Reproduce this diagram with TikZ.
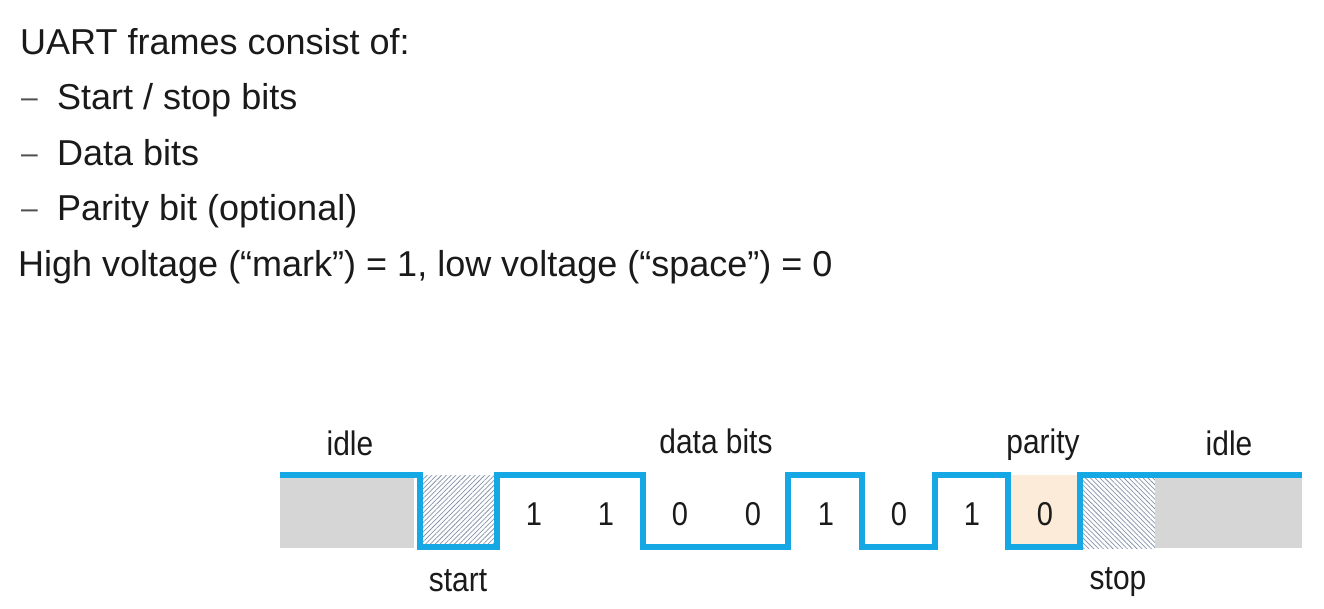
\documentclass[tikz,border=0pt]{standalone}
\usepackage{fontspec}
\setmainfont{Liberation Sans}
\newfontfamily\labelfont[FakeStretch=0.88]{Liberation Sans}
\usetikzlibrary{patterns.meta}
\definecolor{ink}{RGB}{26,26,26}
\definecolor{dashgrey}{RGB}{80,80,80}
\definecolor{sigblue}{RGB}{22,168,228}
\definecolor{idlegrey}{RGB}{214,214,214}
\definecolor{paritybg}{RGB}{252,235,216}
\definecolor{hatchcol}{RGB}{135,150,172}
\begin{document}
\begin{tikzpicture}[x=1pt,y=-1pt,
  txt/.style={anchor=base west, inner sep=0pt, text=ink, font=\fontsize{36}{40}\selectfont},
  dashmark/.style={anchor=base west, inner sep=0pt, text=dashgrey, font=\fontsize{30}{34}\selectfont},
  lbl/.style={anchor=base, inner sep=0pt, text=ink, font=\labelfont\fontsize{34}{36}\selectfont},
  bitval/.style={anchor=base, inner sep=0pt, text=ink, font=\labelfont\fontsize{33}{35}\selectfont},
  wave/.style={draw=sigblue, line width=6.5pt, line join=miter},
  hatchne/.style={pattern={Lines[angle=45,distance=3.4pt,line width=0.75pt]}, pattern color=hatchcol},
  hatchnw/.style={pattern={Lines[angle=-45,distance=3.4pt,line width=0.75pt]}, pattern color=hatchcol}
]
\useasboundingbox[fill=white] (0,0) rectangle (1324,609);

% bullet text
\node[txt] (t1) at (20,55) {UART frames consist of:};
\node[dashmark] (d2) at (21,108) {--};
\node[txt] (t2) at (57,110) {Start / stop bits};
\node[dashmark] (d3) at (21,164) {--};
\node[txt] (t3) at (57,166) {Data bits};
\node[dashmark] (d4) at (21,219) {--};
\node[txt] (t4) at (57,221) {Parity bit (optional)};
\node[txt] (t5) at (18,277) {High voltage (“mark”) = 1, low voltage (“space”) = 0};

% background regions
\fill[idlegrey] (280,478) rectangle (414,548);
\fill[white] (420,475) rectangle (497,547);
\fill[hatchne] (420,475) rectangle (497,547);
\fill[paritybg] (1008,475) rectangle (1080,547);
\fill[white] (1080,478) rectangle (1155,548);
\fill[hatchnw] (1080,478) rectangle (1155,548);
\fill[idlegrey] (1155,478) rectangle (1302,548);

% waveform corner points
\coordinate (w0) at (280,475);
\coordinate (w1) at (420,475);
\coordinate (w2) at (420,547);
\coordinate (w3) at (497,547);
\coordinate (w4) at (497,475);
\coordinate (w5) at (643,475);
\coordinate (w6) at (643,547);
\coordinate (w7) at (788,547);
\coordinate (w8) at (788,475);
\coordinate (w9) at (862,475);
\coordinate (w10) at (862,547);
\coordinate (w11) at (935,547);
\coordinate (w12) at (935,475);
\coordinate (w13) at (1008,475);
\coordinate (w14) at (1008,547);
\coordinate (w15) at (1080,547);
\coordinate (w16) at (1080,475);
\coordinate (w17) at (1302,475);
\draw[wave] (w0) -- (w1) -- (w2) -- (w3) -- (w4) -- (w5) -- (w6) -- (w7) -- (w8)
  -- (w9) -- (w10) -- (w11) -- (w12) -- (w13) -- (w14) -- (w15) -- (w16) -- (w17);

% bit values
\node[bitval] (b1) at (534,525) {1};
\node[bitval] (b2) at (606,525) {1};
\node[bitval] (b3) at (680,525) {0};
\node[bitval] (b4) at (753,525) {0};
\node[bitval] (b5) at (826,525) {1};
\node[bitval] (b6) at (899,525) {0};
\node[bitval] (b7) at (972,525) {1};
\node[bitval] (b8) at (1045,525) {0};

% labels
\node[lbl] (idleL) at (350,455) {idle};
\node[lbl] (data) at (716,453) {data bits};
\node[lbl] (par) at (1043,453) {parity};
\node[lbl] (idleR) at (1229,455) {idle};
\node[lbl] (start) at (458,591) {start};
\node[lbl] (stop) at (1118,589) {stop};
\end{tikzpicture}
\end{document}
